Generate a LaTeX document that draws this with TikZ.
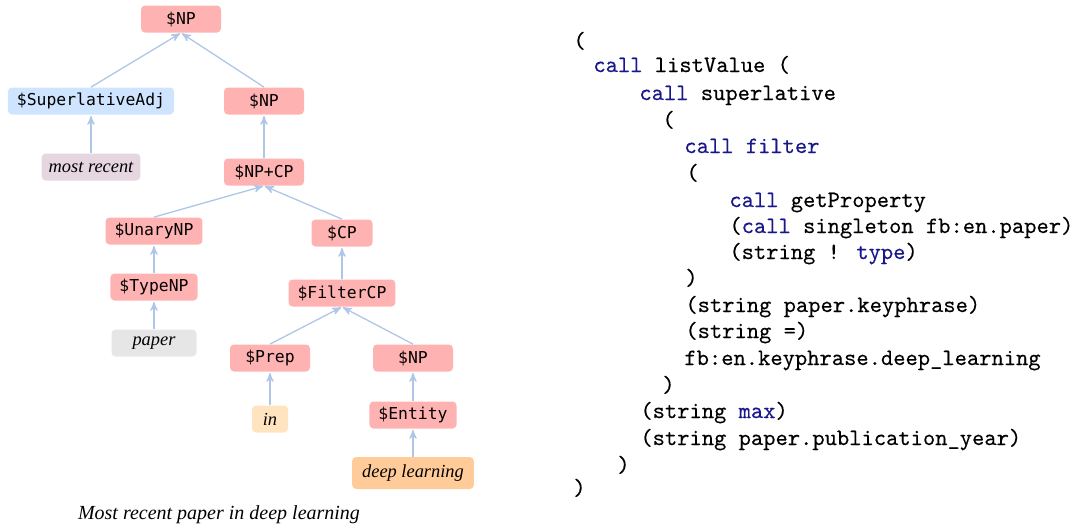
\documentclass[tikz,border=0pt]{standalone}
\usepackage{fontspec}
\newfontfamily\ntfont{DejaVu Sans Mono}
\newfontfamily\leaffont{Liberation Serif}
\newfontfamily\codefont[FakeBold=0.3]{lmmono10-regular.otf}
\usetikzlibrary{arrows,positioning}
\definecolor{ntpink}{RGB}{255,178,178}
\definecolor{adjblue}{RGB}{206,228,255}
\definecolor{mauve}{RGB}{230,214,224}
\definecolor{leafgray}{RGB}{230,230,230}
\definecolor{lightorange}{RGB}{255,228,191}
\definecolor{deeporange}{RGB}{255,204,153}
\definecolor{edgeblue}{RGB}{174,198,232}
\definecolor{kwblue}{RGB}{24,24,140}
\tikzset{
  %Define standard arrow tip
    >=stealth',
  %define style for grammar symbols
  nt/.style={
    rectangle,
    rounded corners=2pt,
    fill=ntpink,
    font=\ntfont\fontsize{8.2}{9}\selectfont,
    minimum width=40pt,
    minimum height=13.5pt,
    inner xsep=4.5pt,
    inner ysep=0pt},
  %define style for words of the sentence
  leaf/.style={
    rectangle,
    rounded corners=2pt,
    font=\leaffont\itshape\fontsize{9.2}{10}\selectfont,
    minimum height=13.5pt,
    inner xsep=3.5pt,
    inner ysep=0pt},
  %define style for arrows
  edge/.style={
    ->,
    draw=edgeblue,
    line width=0.65pt,
    shorten >=0.5pt},
  %define style for code lines
  code/.style={
    anchor=base west,
    inner sep=0pt,
    font=\codefont\fontsize{11.7}{13}\selectfont}
}
\newcommand{\kw}[1]{\textcolor{kwblue}{#1}}

\begin{document}
\begin{tikzpicture}[x=0.5pt, y=-0.5pt]
\useasboundingbox (0,0) rectangle (1078,527);
%tree nodes
\node[nt] (np) at (181,19) {\$NP};
\node[nt, fill=adjblue] (superadj) at (91,101) {\$SuperlativeAdj};
\node[nt] (npr) at (264,101) {\$NP};
\node[leaf, fill=mauve] (mostrecent) at (91,167) {most recent};
\node[nt] (npcp) at (264,172) {\$NP+CP};
\node[nt] (unarynp) at (154,231) {\$UnaryNP};
\node[nt, minimum width=30.5pt] (cp) at (342,233) {\$CP};
\node[nt] (typenp) at (154,287) {\$TypeNP};
\node[leaf, fill=leafgray, minimum width=42.5pt] (paper) at (154,343) {paper};
\node[nt] (filtercp) at (342,293) {\$FilterCP};
\node[nt] (prep) at (270,358) {\$Prep};
\node[nt] (npent) at (413,358) {\$NP};
\node[leaf, fill=lightorange, minimum width=18pt] (in) at (270,419) {in};
\node[nt] (entity) at (413,415) {\$Entity};
\node[leaf, fill=deeporange, minimum height=16pt, inner xsep=5pt] (deeplearning) at (413,473) {deep learning};

\node[leaf, font=\leaffont\itshape\fontsize{10}{12}\selectfont] (caption) at (219,515) {Most recent paper in deep learning};

%edges
\draw[edge] (superadj.north) -- (np.south);
\draw[edge] (npr.north) -- (np.south);
\draw[edge] (mostrecent.north) -- (superadj.south);
\draw[edge] (npcp.north) -- (npr.south);
\draw[edge] (unarynp.north) -- (npcp.south);
\draw[edge] (cp.north) -- (npcp.south);
\draw[edge] (typenp.north) -- (unarynp.south);
\draw[edge] (paper.north) -- (typenp.south);
\draw[edge] (filtercp.north) -- (cp.south);
\draw[edge] (prep.north) -- (filtercp.south);
\draw[edge] (npent.north) -- (filtercp.south);
\draw[edge] (in.north) -- (prep.south);
\draw[edge] (entity.north) -- (npent.south);
\draw[edge] (deeplearning.north) -- (entity.south);

%logical form
\node[code] (c1) at (573,48) {(};
\node[code] (c2) at (593,72) {\kw{call} listValue (};
\node[code] (c3) at (639,100) {\kw{call} superlative};
\node[code] (c4) at (662,127) {(};
\node[code] (c5) at (684,153) {\kw{call filter}};
\node[code] (c6) at (686,180) {(};
\node[code] (c7) at (729,207) {\kw{call} getProperty};
\node[code] (c8) at (729,233) {(\kw{call} singleton fb:en.paper)};
\node[code] (c9) at (729,259) {(string ! \kw{type})};
\node[code] (c10) at (685,285) {)};
\node[code] (c11) at (685,312) {(string paper.keyphrase)};
\node[code] (c12) at (685,338) {(string =)};
\node[code] (c13) at (684,365) {fb:en.keyphrase.deep\_learning};
\node[code] (c14) at (662,392) {)};
\node[code] (c15) at (640,418) {(string \kw{max})};
\node[code] (c16) at (640,445) {(string paper.publication\_year)};
\node[code] (c17) at (617,472) {)};
\node[code] (c18) at (573,495) {)};
\end{tikzpicture}
\end{document}
